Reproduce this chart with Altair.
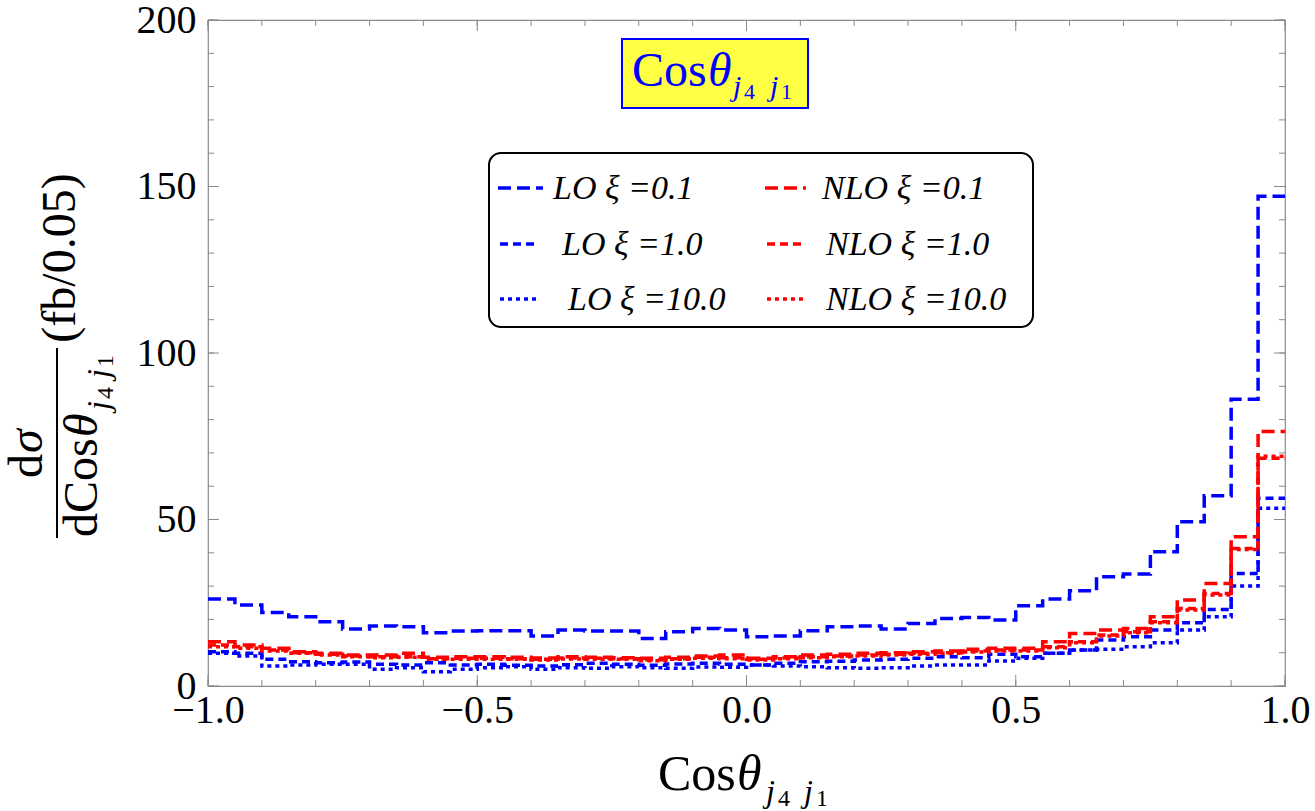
import altair as alt
import pandas as pd
import numpy as np

# ---------------- data (bin contents, 40 bins of width 0.05 from -1 to 1) ----------------
bin_edges = np.round(np.linspace(-1.0, 1.0, 41), 3)

LO_xi01 = [26.1, 24.3, 22.1, 20.8, 19.3, 17.1, 18.0, 17.8, 16.0, 16.5,
           16.6, 16.6, 15.0, 16.8, 16.5, 16.5, 14.3, 16.3, 17.3, 16.8,
           14.8, 15.0, 16.6, 17.8, 18.0, 17.1, 18.8, 20.3, 20.6, 19.8,
           24.1, 26.1, 28.6, 32.8, 33.6, 40.3, 49.3, 57.1, 86.1, 147.1]
LO_xi1 = [10.3, 9.8, 8.0, 7.3, 7.0, 7.2, 6.5, 6.3, 7.0, 6.3,
          6.5, 6.2, 6.0, 6.4, 6.8, 6.5, 6.2, 6.6, 6.8, 6.5,
          6.3, 6.8, 7.3, 7.4, 7.8, 8.0, 8.3, 8.8, 8.5, 9.5,
          8.8, 9.8, 10.8, 13.8, 14.8, 16.8, 19.0, 23.0, 33.8, 56.4]
LO_xi10 = [9.8, 9.0, 6.0, 6.3, 6.5, 6.5, 5.0, 5.5, 4.3, 5.0,
           5.5, 5.8, 5.0, 5.5, 5.3, 5.8, 5.5, 5.3, 5.7, 5.6,
           6.3, 6.0, 5.8, 5.5, 5.3, 5.5, 6.0, 6.3, 6.3, 7.5,
           8.3, 9.8, 10.8, 11.0, 11.8, 13.0, 16.8, 20.8, 30.0, 53.4]
NLO_xi01 = [13.3, 12.3, 11.3, 10.3, 9.8, 9.3, 9.3, 9.8, 8.6, 8.8,
            8.8, 8.6, 8.4, 8.8, 8.6, 8.5, 8.3, 8.6, 9.0, 9.3,
            8.3, 8.8, 9.3, 9.5, 9.8, 10.0, 10.3, 10.5, 11.0, 11.3,
            11.3, 13.3, 15.8, 16.8, 17.3, 20.8, 25.8, 30.8, 44.8, 76.4]
NLO_xi1 = [12.3, 11.8, 10.8, 10.0, 9.5, 9.0, 8.8, 8.8, 8.2, 8.3,
           8.3, 8.2, 8.0, 8.4, 8.3, 8.2, 7.9, 8.2, 8.6, 8.5,
           8.0, 8.4, 8.8, 9.0, 9.3, 9.5, 9.8, 10.0, 10.5, 10.8,
           10.8, 11.8, 13.3, 15.3, 16.3, 19.3, 23.3, 27.8, 41.3, 68.4]
NLO_xi10 = [11.8, 11.3, 10.5, 9.8, 9.3, 8.8, 8.5, 8.6, 8.0, 8.0,
            8.0, 8.0, 7.8, 8.1, 8.0, 8.0, 7.6, 8.0, 8.3, 8.2,
            7.8, 8.2, 8.5, 8.8, 9.0, 9.3, 9.5, 9.8, 10.2, 10.5,
            10.5, 11.5, 13.0, 15.0, 16.0, 19.0, 22.8, 27.3, 41.0, 69.0]

series_names = ["LO ξ =0.1", "LO ξ =1.0", "LO ξ =10.0",
                "NLO ξ =0.1", "NLO ξ =1.0", "NLO ξ =10.0"]
series_values = [LO_xi01, LO_xi1, LO_xi10, NLO_xi01, NLO_xi1, NLO_xi10]

x_major = [-1.0, -0.5, 0.0, 0.5, 1.0]
x_minor = [round(-1.0 + 0.1 * i, 2) for i in range(21)]
y_major = [0, 50, 100, 150, 200]
y_minor = list(range(0, 201, 10))

# ---------------- styling ----------------
SERIF = "Liberation Serif"
L, T = 208, 20          # page position of plot area
W, H = 1077, 666        # plot area size
BLUE, RED = "#0000ff", "#ff0000"
FRAME = "#8a8a8a"
colors = [BLUE, BLUE, BLUE, RED, RED, RED]
dashes = [[13, 6], [8, 5], [4, 4], [13, 6], [8, 5], [4, 4]]

xs = alt.Scale(domain=[-1, 1], nice=False, zero=False)
ys = alt.Scale(domain=[0, 200], nice=False, zero=False)

one = pd.DataFrame({"k": [0]})


def vx(px):
    return px - L


def vy(py):
    return py - T


def txt(s, x, y, size, angle=0, italic=False, color="black", align="left", baseline="alphabetic"):
    kw = dict(text=s, fontSize=size, font=SERIF, color=color, align=align, baseline=baseline)
    if italic:
        kw["fontStyle"] = "italic"
    if angle:
        kw["angle"] = angle
    return alt.Chart(one).mark_text(**kw).encode(x=alt.value(vx(x)), y=alt.value(vy(y)))


layers = []

# axes (labels only) carried by an invisible base layer
base = alt.Chart(pd.DataFrame({"x": [-1.0, 1.0], "y": [0, 200]})).mark_point(opacity=0).encode(
    x=alt.X("x:Q", scale=xs, axis=alt.Axis(values=x_major, format=".1f", title=None, ticks=False,
                                           domain=False, grid=False, labelFont=SERIF, labelFontSize=40,
                                           labelColor="black", labelPadding=4, labelFlush=False,
                                           labelOverlap=False)),
    y=alt.Y("y:Q", scale=ys, axis=alt.Axis(values=y_major, format="d", title=None, ticks=False,
                                           domain=False, grid=False, labelFont=SERIF, labelFontSize=40,
                                           labelColor="black", labelPadding=12, labelFlush=False,
                                           labelOverlap=False)),
)
layers.append(base)

# inward ticks on all four sides
xmaj = pd.DataFrame({"v": x_major})
xmin = pd.DataFrame({"v": x_minor})
ymaj = pd.DataFrame({"v": y_major})
ymin = pd.DataFrame({"v": y_minor})
for df, ln in [(xmin, 6), (xmaj, 11)]:
    layers.append(alt.Chart(df).mark_rule(color=FRAME, strokeWidth=1).encode(
        x=alt.X("v:Q", scale=xs), y=alt.value(H), y2=alt.value(H - ln)))
    layers.append(alt.Chart(df).mark_rule(color=FRAME, strokeWidth=1).encode(
        x=alt.X("v:Q", scale=xs), y=alt.value(0), y2=alt.value(ln)))
for df, ln in [(ymin, 6), (ymaj, 11)]:
    layers.append(alt.Chart(df).mark_rule(color=FRAME, strokeWidth=1).encode(
        y=alt.Y("v:Q", scale=ys), x=alt.value(0), x2=alt.value(ln)))
    layers.append(alt.Chart(df).mark_rule(color=FRAME, strokeWidth=1).encode(
        y=alt.Y("v:Q", scale=ys), x=alt.value(W), x2=alt.value(W - ln)))

# histogram step lines
for name, vals, col, dash in zip(series_names, series_values, colors, dashes):
    df = pd.DataFrame({"x": bin_edges, "y": list(vals) + [vals[-1]], "s": name})
    layers.append(alt.Chart(df).mark_line(interpolate="step-after", color=col, strokeWidth=3.5,
                                          strokeDash=dash, clip=True).encode(
        x=alt.X("x:Q", scale=xs), y=alt.Y("y:Q", scale=ys)))

# title box
layers.append(alt.Chart(one).mark_rect(fill="#ffff44", stroke=BLUE, strokeWidth=2).encode(
    x=alt.value(vx(622)), x2=alt.value(vx(808)), y=alt.value(vy(39)), y2=alt.value(vy(108))))
layers.append(txt("Cos", 632, 86, 48, color=BLUE))
layers.append(txt("θ", 708, 86, 48, italic=True, color=BLUE))
layers.append(txt("j", 733, 96, 30, italic=True, color=BLUE))
layers.append(txt("4", 744, 99, 22, color=BLUE))
layers.append(txt("j", 770, 96, 30, italic=True, color=BLUE))
layers.append(txt("1", 781, 99, 22, color=BLUE))

# legend box
layers.append(alt.Chart(one).mark_rect(fill="white", stroke="black", strokeWidth=2, cornerRadius=12).encode(
    x=alt.value(vx(489)), x2=alt.value(vx(1033)), y=alt.value(vy(153)), y2=alt.value(vy(327))))
row_y = [188, 244, 299]
left_sample = [(498, 543), (500, 535), (500, 538)]
right_sample = [(765, 806), (767, 802), (767, 804)]
left_text = [553, 562, 568]
right_text = [822, 826, 826]
for i in range(3):
    for (x0, x1), tx, name, col, dash in [
        (left_sample[i], left_text[i], series_names[i], colors[i], dashes[i]),
        (right_sample[i], right_text[i], series_names[i + 3], colors[i + 3], dashes[i + 3]),
    ]:
        layers.append(alt.Chart(one).mark_rule(color=col, strokeWidth=3.5, strokeDash=dash).encode(
            x=alt.value(vx(x0)), x2=alt.value(vx(x1)), y=alt.value(vy(row_y[i]))))
        layers.append(txt(name, tx, row_y[i] + 11, 34, italic=True))

# x-axis title
layers.append(txt("Cos", 658, 790, 50))
layers.append(txt("θ", 737, 790, 50, italic=True))
layers.append(txt("j", 766, 802, 32, italic=True))
layers.append(txt("4", 778, 806, 24))
layers.append(txt("j", 804, 802, 32, italic=True))
layers.append(txt("1", 816, 806, 24))

# y-axis title (rotated fraction)
layers.append(txt("d", 42, 478, 48, angle=270))
layers.append(txt("σ", 42, 453, 48, angle=270, italic=True))
layers.append(alt.Chart(one).mark_rule(color="black", strokeWidth=2).encode(
    x=alt.value(vx(57)), y=alt.value(vy(348)), y2=alt.value(vy(538))))
layers.append(txt("dCos", 97, 537, 48, angle=270))
layers.append(txt("θ", 97, 437, 48, angle=270, italic=True))
layers.append(txt("j", 109, 410, 32, angle=270, italic=True))
layers.append(txt("4", 113, 399, 24, angle=270))
layers.append(txt("j", 109, 378, 32, angle=270, italic=True))
layers.append(txt("1", 113, 367, 24, angle=270))
layers.append(txt("(fb/0.05)", 75, 258, 48, angle=270, align="center"))

chart = alt.layer(*layers).properties(
    width=W, height=H,
    autosize=alt.AutoSizeParams(type="none"),
    padding={"left": L, "top": T, "right": 1315 - L - W, "bottom": 811 - T - H},
    background="white",
).configure_view(stroke=FRAME, strokeWidth=1.2)

chart.save("out.html", embed_options={"renderer": "svg", "actions": False})
